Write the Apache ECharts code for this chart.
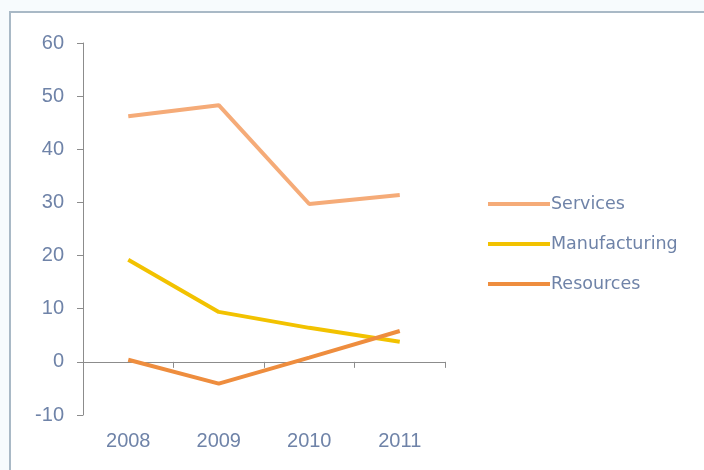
<!DOCTYPE html>
<html>
<head>
<meta charset="utf-8">
<script src="https://cdn.jsdelivr.net/npm/echarts@6/dist/echarts.min.js"></script>
<style>
  html, body { margin: 0; padding: 0; background: #f7fbfd; }
  #chart { width: 704px; height: 470px; }
</style>
</head>
<body>
<div id="chart"></div>
<script>
// data
var years = ['2008', '2009', '2010', '2011'];
var services = [46.2, 48.3, 29.7, 31.4];
var manufacturing = [19.2, 9.4, 6.4, 3.8];
var resources = [0.4, -4.1, 0.8, 5.8];
var seriesNames = ['Services', 'Manufacturing', 'Resources'];

var labelColor = '#6f83a8';
var axisColor = '#8c8c8c';

var chart = echarts.init(document.getElementById('chart'));
chart.setOption({
  backgroundColor: '#f7fbfd',
  color: ['#f5ab78', '#f2c200', '#ee8d3e'],
  animation: false,
  graphic: [{
    type: 'rect',
    z: -1,
    shape: { x: 10, y: 12, width: 720, height: 480 },
    style: { fill: '#ffffff', stroke: '#a9b9c6', lineWidth: 2 }
  }],
  grid: { left: 83, right: 259, top: 43, bottom: 55 },
  legend: {
    orient: 'vertical',
    left: 483,
    top: 189,
    icon: 'rect',
    itemWidth: 62,
    itemHeight: 4,
    itemGap: 20,
    textStyle: { color: labelColor, fontSize: 17.5, lineHeight: 20, fontFamily: 'DejaVu Sans', padding: [0, 0, 0, -4] },
    data: seriesNames
  },
  xAxis: [{
    type: 'category',
    data: years,
    axisLine: { onZero: true, lineStyle: { color: axisColor, width: 1 } },
    axisTick: { show: true, length: 6, lineStyle: { color: axisColor } },
    axisLabel: { show: false },
    splitLine: { show: false }
  }, {
    type: 'category',
    data: years,
    position: 'bottom',
    axisLine: { show: false },
    axisTick: { show: false },
    axisLabel: { color: labelColor, fontSize: 20, fontFamily: 'Liberation Sans', margin: 16 }
  }],
  yAxis: {
    type: 'value',
    min: -10,
    max: 60,
    interval: 10,
    axisLine: { show: true, lineStyle: { color: axisColor, width: 1 } },
    axisTick: { show: true, length: 6, lineStyle: { color: axisColor } },
    axisLabel: { color: labelColor, fontSize: 20, fontFamily: 'Liberation Sans', margin: 19 },
    splitLine: { show: false }
  },
  series: [
    { name: seriesNames[0], type: 'line', data: services, symbol: 'none', lineStyle: { width: 4 } },
    { name: seriesNames[1], type: 'line', data: manufacturing, symbol: 'none', lineStyle: { width: 4 } },
    { name: seriesNames[2], type: 'line', data: resources, symbol: 'none', lineStyle: { width: 4 } }
  ]
});
</script>
</body>
</html>
